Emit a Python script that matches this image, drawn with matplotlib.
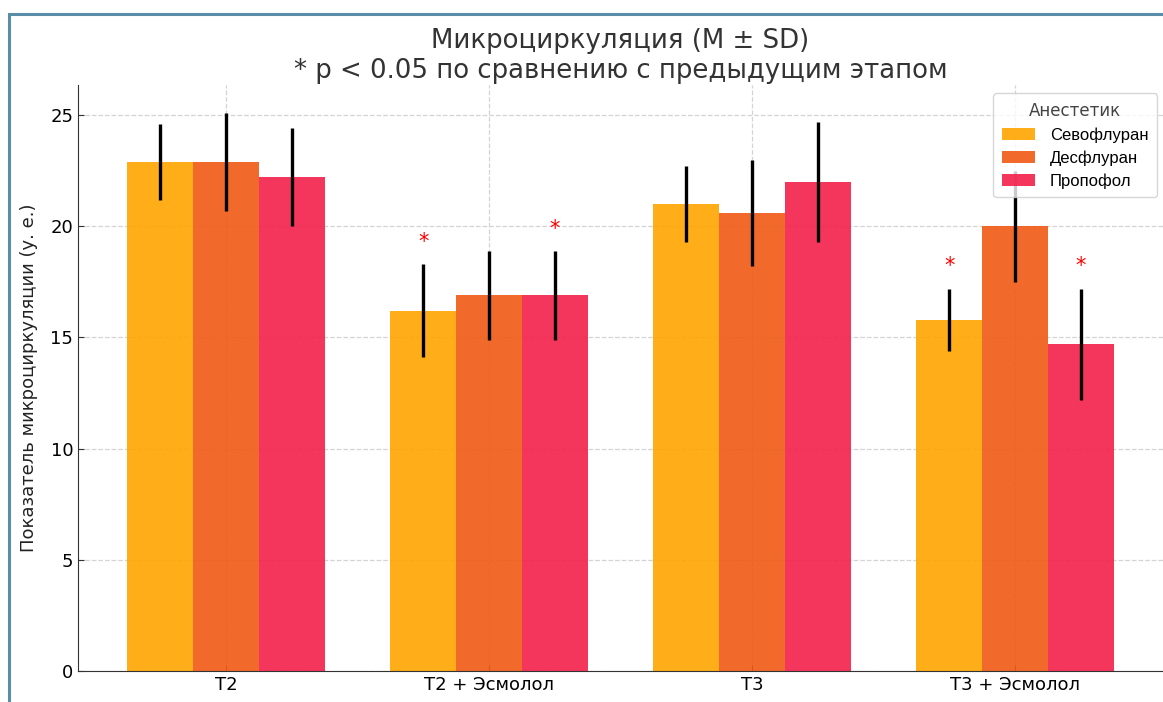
import matplotlib.pyplot as plt
import numpy as np
from matplotlib.patches import Rectangle

# --- data --------------------------------------------------------------------------------------
stages = ["T2", "T2 + Эсмолол", "T3", "T3 + Эсмолол"]
anesthetics = ["Севофлуран", "Десфлуран", "Пропофол"]
sevo_mean = [22.9, 16.2, 21.0, 15.8]
sevo_sd = [1.7, 2.1, 1.7, 1.4]
des_mean = [22.9, 16.9, 20.6, 20.0]
des_sd = [2.2, 2.0, 2.4, 2.5]
prop_mean = [22.2, 16.9, 22.0, 14.7]
prop_sd = [2.2, 2.0, 2.7, 2.5]
# (stage index, anesthetic index) pairs marked with * (p < 0.05 vs previous stage)
signif = [(1, 0), (1, 2), (3, 0), (3, 2)]

colors = ["#FFA500", "#F05A14", "#F3204A"]

means = [sevo_mean, des_mean, prop_mean]
sds = [sevo_sd, des_sd, prop_sd]

fig = plt.figure(figsize=(11.63, 7.02), dpi=100)
ax = fig.add_axes([78 / 1163, 1 - 671 / 702, 1.0 - 78 / 1163, (671 - 85) / 702])

x = np.arange(len(stages))
w = 0.25
for i, name in enumerate(anesthetics):
    ax.bar(x + (i - 1) * w, means[i], w, yerr=sds[i], color=colors[i], alpha=0.9,
           label=name, error_kw=dict(ecolor="black", elinewidth=2.4, capsize=0), zorder=2)

for si, ai in signif:
    top = means[ai][si] + sds[ai][si]
    ax.text(x[si] + (ai - 1) * w, top + 1.0, "*", color="red", ha="center", va="center",
            fontsize=15)

ax.set_xticks(x)
ax.set_xticklabels(stages, fontsize=13)
ax.tick_params(axis="y", labelsize=13)
ax.tick_params(direction="in", length=4, color="#333333")
ax.set_ylabel("Показатель микроциркуляции (у. е.)", fontsize=13, color="#222222", labelpad=9)
ax.set_title("Микроциркуляция (M ± SD)\n* p < 0.05 по сравнению с предыдущим этапом",
             fontsize=18.7, color="#333333", pad=5)
ax.grid(True, ls="--", color="#d4d4d4", lw=0.9)
ax.set_axisbelow(True)
for side in ("top", "right"):
    ax.spines[side].set_visible(False)
for side in ("left", "bottom"):
    ax.spines[side].set_color("#333333")

leg = ax.legend(title="Анестетик", loc="upper right", bbox_to_anchor=(0.9945, 0.986),
                borderaxespad=0, fontsize=12, title_fontsize=12, frameon=True,
                handlelength=2.0, labelspacing=0.45, handletextpad=0.9, borderpad=0.5)
for t in leg.get_texts():
    t.set_family("Liberation Sans")
leg.get_title().set_color("#444444")

# screenshot frame round the chart
fig.patches.append(Rectangle((9 / 1163, -0.1), 1.2, 1 - 14 / 702 + 0.1,
                             transform=fig.transFigure, fill=False,
                             edgecolor="#5a8ea8", lw=2.2, zorder=0))

fig.savefig("out.png", dpi=100)
